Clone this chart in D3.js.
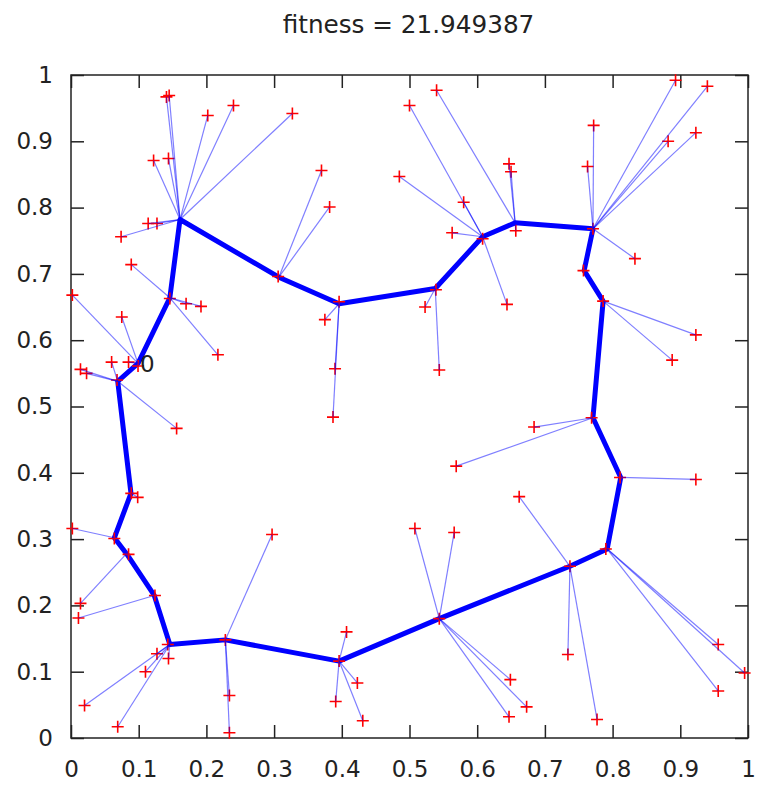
<!DOCTYPE html>
<html>
<head>
<meta charset="utf-8">
<script src="https://cdn.jsdelivr.net/npm/d3@7"></script>
<style>
    body { margin: 0; background: white; }
    #chart { width: 763px; height: 787px; }
</style>
</head>
<body>
<div id="chart"></div>
<script>
// Ring of nodes (closed tour), in order
const nodeX = [0.099, 0.146, 0.161, 0.307, 0.396, 0.538, 0.608, 0.656, 0.771, 0.758, 0.786, 0.771,
               0.812, 0.792, 0.737, 0.544, 0.396, 0.228, 0.146, 0.123, 0.082, 0.064, 0.0886, 0.069];
const nodeY = [0.565, 0.664, 0.782, 0.695, 0.655, 0.678, 0.756, 0.777, 0.768, 0.705, 0.659, 0.483,
               0.393, 0.285, 0.259, 0.180, 0.116, 0.148, 0.141, 0.215, 0.278, 0.302, 0.369, 0.538];

// Cities and the node each one is mapped to
const cityX = [0.099, 0.085, 0.075, 0.002,
               0.146, 0.170, 0.192, 0.217, 0.089,
               0.141, 0.145, 0.202, 0.240, 0.327, 0.122, 0.144, 0.114, 0.127, 0.074,
               0.306, 0.370, 0.382,
               0.396, 0.375, 0.390, 0.387,
               0.539, 0.523, 0.544,
               0.608, 0.500, 0.485, 0.580, 0.563, 0.644,
               0.540, 0.647, 0.650, 0.657,
               0.771, 0.893, 0.940, 0.772, 0.882, 0.923, 0.763, 0.833,
               0.757,
               0.786, 0.923, 0.888,
               0.769, 0.684, 0.569,
               0.811, 0.923,
               0.790, 0.956, 0.956, 0.995,
               0.737, 0.734, 0.777, 0.662,
               0.544, 0.508, 0.566, 0.649, 0.673, 0.647,
               0.396, 0.407, 0.423, 0.391, 0.431,
               0.228, 0.297, 0.234, 0.234,
               0.143, 0.127, 0.144, 0.110, 0.020, 0.069,
               0.124, 0.011,
               0.085, 0.014,
               0.064, 0.002,
               0.089, 0.0985,
               0.068, 0.014, 0.023, 0.060, 0.156];
const cityY = [0.561, 0.567, 0.635, 0.668,
               0.663, 0.655, 0.651, 0.578, 0.714,
               0.967, 0.969, 0.939, 0.954, 0.942, 0.871, 0.874, 0.776, 0.776, 0.756,
               0.696, 0.856, 0.801,
               0.658, 0.631, 0.557, 0.484,
               0.676, 0.650, 0.555,
               0.753, 0.954, 0.847, 0.808, 0.762, 0.654,
               0.977, 0.866, 0.854, 0.765,
               0.768, 0.992, 0.983, 0.924, 0.900, 0.913, 0.862, 0.723,
               0.705,
               0.659, 0.608, 0.570,
               0.483, 0.469, 0.410,
               0.393, 0.390,
               0.285, 0.141, 0.071, 0.098,
               0.259, 0.126, 0.028, 0.364,
               0.180, 0.316, 0.310, 0.088, 0.047, 0.032,
               0.116, 0.160, 0.083, 0.055, 0.026,
               0.148, 0.307, 0.064, 0.008,
               0.141, 0.127, 0.120, 0.100, 0.049, 0.017,
               0.215, 0.181,
               0.277, 0.203,
               0.301, 0.316,
               0.369, 0.363,
               0.540, 0.556, 0.550, 0.567, 0.467];
const cityNode = [0, 0, 0, 0,
                  1, 1, 1, 1, 1,
                  2, 2, 2, 2, 2, 2, 2, 2, 2, 2,
                  3, 3, 3,
                  4, 4, 4, 4,
                  5, 5, 5,
                  6, 6, 6, 6, 6, 6,
                  7, 7, 7, 7,
                  8, 8, 8, 8, 8, 8, 8, 8,
                  9,
                  10, 10, 10,
                  11, 11, 11,
                  12, 12,
                  13, 13, 13, 13,
                  14, 14, 14, 14,
                  15, 15, 15, 15, 15, 15,
                  16, 16, 16, 16, 16,
                  17, 17, 17, 17,
                  18, 18, 18, 18, 18, 18,
                  19, 19,
                  20, 20,
                  21, 21,
                  22, 22,
                  23, 23, 23, 23, 23];

const ticks = [0, 0.1, 0.2, 0.3, 0.4, 0.5, 0.6, 0.7, 0.8, 0.9, 1];
const titleText = "fitness = 21.949387";
const startLabel = "0";

const W = 763, H = 787;
const margin = { top: 75, right: 15, bottom: 49, left: 71 };
const width = W - margin.left - margin.right;
const height = H - margin.top - margin.bottom;
const font = "'DejaVu Sans', sans-serif";

const svg = d3.select("#chart").append("svg")
    .attr("width", W)
    .attr("height", H);

const x = d3.scaleLinear().domain([0, 1]).range([0, width]);
const y = d3.scaleLinear().domain([0, 1]).range([height, 0]);

const g = svg.append("g")
    .attr("transform", `translate(${margin.left},${margin.top})`);

// Title
svg.append("text")
    .attr("x", margin.left + width / 2 - 1)
    .attr("y", 33)
    .attr("text-anchor", "middle")
    .style("font-family", font)
    .style("font-size", "24.7px")
    .style("fill", "#222")
    .text(titleText);

// Axes with inward ticks, mirrored on all sides
const tickLen = 13;
const fmt = d => d3.format("")(+d.toFixed(1));
const styleAxis = sel => {
    sel.select(".domain").remove();
    sel.selectAll("line").attr("stroke", "#222").attr("stroke-width", 1.5);
    sel.selectAll("text").style("font-family", font).style("font-size", "23px").style("fill", "#222");
};

g.append("g")
    .attr("transform", `translate(0,${height})`)
    .call(d3.axisBottom(x).tickValues(ticks).tickFormat(fmt).tickSizeInner(-tickLen).tickPadding(tickLen + 10))
    .call(styleAxis);
g.append("g")
    .call(d3.axisLeft(y).tickValues(ticks).tickFormat(fmt).tickSizeInner(-tickLen).tickPadding(tickLen + 5))
    .call(styleAxis);
g.append("g")
    .call(d3.axisTop(x).tickValues(ticks).tickFormat("").tickSizeInner(-tickLen))
    .call(styleAxis);
g.append("g")
    .attr("transform", `translate(${width},0)`)
    .call(d3.axisRight(y).tickValues(ticks).tickFormat("").tickSizeInner(-tickLen))
    .call(styleAxis);

// Frame
g.append("rect")
    .attr("width", width)
    .attr("height", height)
    .attr("fill", "none")
    .attr("stroke", "#222")
    .attr("stroke-width", 1.5);

// Tour (closed)
const tour = d3.line()
    .x(i => x(nodeX[i]))
    .y(i => y(nodeY[i]))
    .curve(d3.curveLinearClosed);

g.append("path")
    .datum(d3.range(nodeX.length))
    .attr("d", tour)
    .attr("fill", "none")
    .attr("stroke", "#0000ff")
    .attr("stroke-width", 5)
    .attr("stroke-linejoin", "round");

// Cities
g.selectAll("path.city")
    .data(d3.range(cityX.length))
    .enter()
    .append("path")
    .attr("class", "city")
    .attr("transform", i => `translate(${x(cityX[i])},${y(cityY[i])})`)
    .attr("d", "M-6,0H6M0,-6V6")
    .attr("stroke", "#ff0000")
    .attr("stroke-width", 1.6);

// City to node links
g.selectAll("line.link")
    .data(d3.range(cityX.length))
    .enter()
    .append("line")
    .attr("class", "link")
    .attr("x1", i => x(cityX[i]))
    .attr("y1", i => y(cityY[i]))
    .attr("x2", i => x(nodeX[cityNode[i]]))
    .attr("y2", i => y(nodeY[cityNode[i]]))
    .attr("stroke", "#0000ff")
    .attr("stroke-opacity", 0.5)
    .attr("stroke-width", 1.2);

// Label at first node
g.append("text")
    .attr("x", x(nodeX[0]) + 2)
    .attr("y", y(nodeY[0]))
    .attr("dy", "0.36em")
    .style("font-family", font)
    .style("font-size", "23px")
    .style("fill", "#222")
    .text(startLabel);
</script>
</body>
</html>
